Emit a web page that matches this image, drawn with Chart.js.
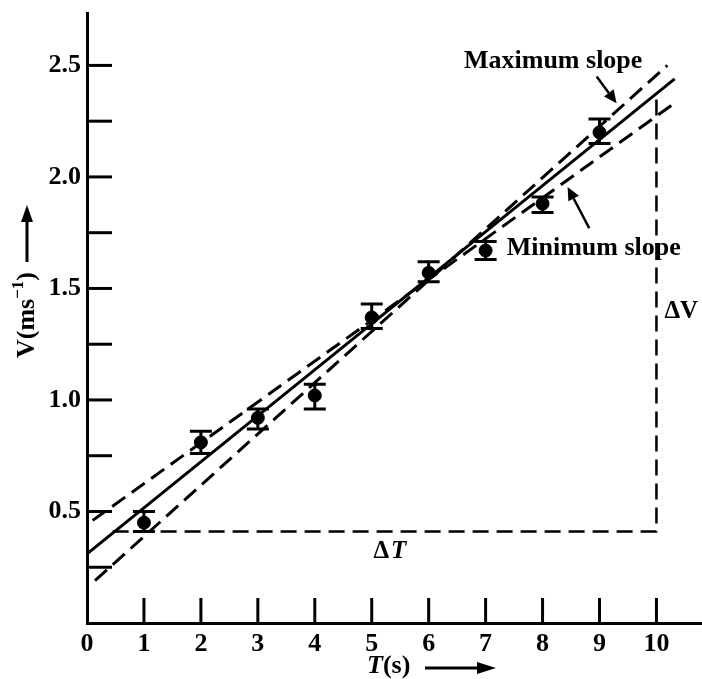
<!DOCTYPE html>
<html>
<head>
<meta charset="utf-8">
<script src="https://cdn.jsdelivr.net/npm/chart.js@4.4.1/dist/chart.umd.min.js"></script>
<style>
body { margin: 0; background: #fff; }
#wrap { width: 702px; height: 679px; }
</style>
</head>
<body>
<div id="wrap"><canvas id="chart"></canvas></div>
<script>
// measured points, T (s) and V (m/s) with error bar limits
var timeVals  = [1, 2, 3, 4, 5, 6, 7, 8, 9];
var speedVals = [0.45, 0.81, 0.92, 1.02, 1.37, 1.57, 1.67, 1.88, 2.20];
var speedHigh = [0.50, 0.86, 0.96, 1.07, 1.43, 1.62, 1.71, 1.91, 2.26];
var speedLow  = [0.41, 0.76, 0.87, 0.96, 1.32, 1.53, 1.63, 1.84, 2.15];

// fitted lines (end points)
var bestFitT  = [0, 10.32];
var bestFitV  = [0.31, 2.44];
var maxSlopeT = [0.14, 10.19];
var maxSlopeV = [0.19, 2.50];
var minSlopeT = [0.10, 10.26];
var minSlopeV = [0.46, 2.32];

// delta T / delta V construction
var triangleT = [0.45, 10, 10];
var triangleV = [0.41, 0.41, 2.37];

var xTicks = [0, 1, 2, 3, 4, 5, 6, 7, 8, 9, 10];
var yTicks = [0.25, 0.5, 0.75, 1.0, 1.25, 1.5, 1.75, 2.0, 2.25, 2.5];
var yTickLabels = ['', '0.5', '', '1.0', '', '1.5', '', '2.0', '', '2.5'];

function pts(xs, ys) {
    return xs.map(function(x, i) { return {x: x, y: ys[i]}; });
}

var FONT = '"Liberation Serif", "Times New Roman", serif';

function arrow(ctx, x1, y1, x2, y2, len, half) {
    var a = Math.atan2(y2 - y1, x2 - x1);
    var bx = x2 - len * Math.cos(a), by = y2 - len * Math.sin(a);
    ctx.beginPath();
    ctx.moveTo(x1, y1);
    ctx.lineTo(bx, by);
    ctx.stroke();
    ctx.beginPath();
    ctx.moveTo(x2, y2);
    ctx.lineTo(bx + half * Math.sin(a), by - half * Math.cos(a));
    ctx.lineTo(bx - half * Math.sin(a), by + half * Math.cos(a));
    ctx.closePath();
    ctx.fill();
}

var decor = {
    id: 'decor',
    beforeDatasetsDraw: function(chart) {
        var ctx = chart.ctx, xs = chart.scales.x, ys = chart.scales.y;
        var a = chart.chartArea;
        ctx.save();
        ctx.strokeStyle = '#000';
        ctx.lineWidth = 3;
        // inward tick marks
        xTicks.forEach(function(v) {
            if (v === 0) return;
            var px = xs.getPixelForValue(v);
            ctx.beginPath();
            ctx.moveTo(px, a.bottom);
            ctx.lineTo(px, a.bottom - 25);
            ctx.stroke();
        });
        yTicks.forEach(function(v) {
            var py = ys.getPixelForValue(v);
            ctx.beginPath();
            ctx.moveTo(a.left, py);
            ctx.lineTo(a.left + 25, py);
            ctx.stroke();
        });
        ctx.restore();
    },
    afterDatasetsDraw: function(chart) {
        var ctx = chart.ctx, xs = chart.scales.x, ys = chart.scales.y;
        ctx.save();
        ctx.strokeStyle = '#000';
        ctx.fillStyle = '#000';
        ctx.lineWidth = 3;
        // error bars
        timeVals.forEach(function(t, i) {
            var px = xs.getPixelForValue(t);
            var top = ys.getPixelForValue(speedHigh[i]);
            var bot = ys.getPixelForValue(speedLow[i]);
            ctx.beginPath();
            ctx.moveTo(px, top); ctx.lineTo(px, bot);
            ctx.moveTo(px - 11, top); ctx.lineTo(px + 11, top);
            ctx.moveTo(px - 11, bot); ctx.lineTo(px + 11, bot);
            ctx.stroke();
        });

        // annotations
        ctx.lineWidth = 2.5;
        ctx.font = 'bold 26px ' + FONT;
        ctx.textBaseline = 'middle';
        ctx.textAlign = 'left';
        ctx.fillText('Maximum slope', xs.getPixelForValue(6.62), ys.getPixelForValue(2.52));
        arrow(ctx, xs.getPixelForValue(8.95), ys.getPixelForValue(2.45),
                   xs.getPixelForValue(9.30), ys.getPixelForValue(2.33), 13, 6);
        ctx.fillText('Minimum slope', xs.getPixelForValue(7.37), ys.getPixelForValue(1.68));
        arrow(ctx, xs.getPixelForValue(8.82), ys.getPixelForValue(1.77),
                   xs.getPixelForValue(8.44), ys.getPixelForValue(1.955), 13, 6);

        // delta labels
        ctx.font = 'bold 25px ' + FONT;
        var dx = xs.getPixelForValue(5.03), dy = ys.getPixelForValue(0.32);
        ctx.fillText('\u0394', dx, dy);
        var w = ctx.measureText('\u0394').width;
        ctx.font = 'italic bold 25px ' + FONT;
        ctx.fillText('T', dx + w + 2, dy);
        ctx.font = 'bold 25px ' + FONT;
        ctx.fillText('\u0394V', xs.getPixelForValue(10.14), ys.getPixelForValue(1.395));

        // y axis title, rotated
        ctx.save();
        ctx.translate(27, 315);
        ctx.rotate(-Math.PI / 2);
        var p1 = 'V(ms', p3 = ')';
        ctx.font = 'bold 17px ' + FONT;
        var w2 = ctx.measureText('\u22121').width;
        ctx.font = 'bold 26px ' + FONT;
        var w1 = ctx.measureText(p1).width, w3 = ctx.measureText(p3).width;
        var start = -(w1 + w2 + w3) / 2;
        ctx.fillText(p1, start, 0);
        ctx.font = 'bold 17px ' + FONT;
        ctx.fillText('\u22121', start + w1, -8);
        ctx.font = 'bold 26px ' + FONT;
        ctx.fillText(p3, start + w1 + w2, 0);
        ctx.restore();
        ctx.lineWidth = 3;
        arrow(ctx, 27, 262, 27, 205, 17, 6);

        // x axis title
        ctx.font = 'italic bold 26px ' + FONT;
        ctx.fillText('T', 367, 666);
        var wt = ctx.measureText('T').width;
        ctx.font = 'bold 26px ' + FONT;
        ctx.fillText('(s)', 367 + wt, 666);
        arrow(ctx, 425, 668, 496, 668, 19, 6);
        ctx.restore();
    }
};

var lineStyle = {
    borderColor: '#000',
    borderWidth: 3,
    pointRadius: 0,
    fill: false,
    showLine: true,
    type: 'line'
};

var chart = new Chart(document.getElementById('chart'), {
    type: 'scatter',
    data: {
        datasets: [
            Object.assign({ label: 'best fit', data: pts(bestFitT, bestFitV) }, lineStyle),
            Object.assign({ label: 'Maximum slope', data: pts(maxSlopeT, maxSlopeV), borderDash: [16, 8] }, lineStyle),
            Object.assign({ label: 'Minimum slope', data: pts(minSlopeT, minSlopeV), borderDash: [16, 8] }, lineStyle),
            Object.assign({ label: 'triangle', data: pts(triangleT, triangleV), borderDash: [16, 8] }, lineStyle, { borderWidth: 2.5 }),
            {
                label: 'V',
                data: pts(timeVals, speedVals),
                pointRadius: 6.5,
                pointBackgroundColor: '#000',
                pointBorderColor: '#000',
                showLine: false
            }
        ]
    },
    options: {
        responsive: true,
        maintainAspectRatio: false,
        animation: false,
        layout: { autoPadding: false, padding: { top: 13, right: 0, left: 0, bottom: 0 } },
        plugins: {
            legend: { display: false },
            tooltip: { enabled: false }
        },
        scales: {
            x: {
                type: 'linear',
                min: 0,
                max: 10.8,
                afterBuildTicks: function(s) { s.ticks = xTicks.map(function(v) { return {value: v}; }); },
                afterFit: function(s) { s.height = 56; s.paddingLeft = 0; s.paddingRight = 0; },
                grid: { display: false, drawTicks: false },
                border: { display: true, color: '#000', width: 3 },
                ticks: {
                    color: '#000',
                    padding: 6,
                    maxRotation: 0,
                    autoSkip: false,
                    font: { family: FONT, size: 26, weight: 'bold' }
                }
            },
            y: {
                type: 'linear',
                min: 0,
                max: 2.735,
                afterBuildTicks: function(s) { s.ticks = yTicks.map(function(v) { return {value: v}; }); },
                afterFit: function(s) { s.width = 87; s.paddingTop = 0; s.paddingBottom = 0; },
                grid: { display: false, drawTicks: false },
                border: { display: true, color: '#000', width: 3 },
                ticks: {
                    color: '#000',
                    padding: 6,
                    autoSkip: false,
                    font: { family: FONT, size: 26, weight: 'bold' },
                    callback: function(value, index) { return yTickLabels[index]; }
                }
            }
        }
    },
    plugins: [decor]
});
</script>
</body>
</html>
